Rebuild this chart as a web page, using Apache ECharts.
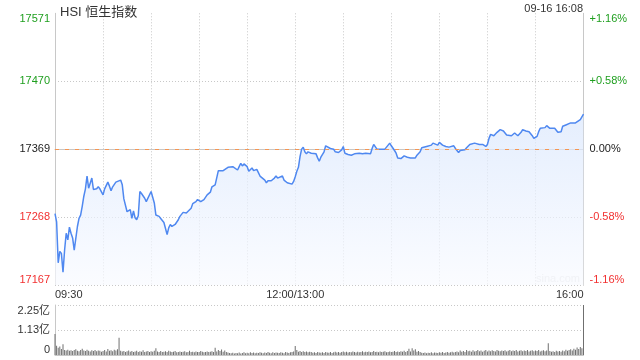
<!DOCTYPE html>
<html><head><meta charset="utf-8">
<script src="https://cdn.jsdelivr.net/npm/echarts@6/dist/echarts.min.js"></script>
<style>html,body{margin:0;padding:0;background:#fff}#c{width:640px;height:360px}</style>
</head><body><div id="c"></div>
<script>
const priceMinutes = [0,1,2,3,4,5,6,7,8,9,10,11,12,13,14,15,16,17,18,19,20,21,22,23,24,25,26,27,28,30,31,33,34,35,36,38,39,41,42,43,44,45,46,47,48,49,50,51,52,53,54,56,57,58,60,61,62,63,65,66,68,69,70,71,72,73,75,77,78,79,80,82,83,85,86,88,89,90,91,92,93,94,95,97,98,99,100,102,103,105,106,108,109,111,112,114,115,116,117,118,120,121,122,123,124,126,127,128,129,131,132,133,135,136,137,138,139,140,142,143,145,146,148,149,150,151,152,153,154,155,156,157,158,160,161,163,164,165,166,167,168,169,170,172,174,175,177,178,179,180,181,183,184,185,187,188,190,191,192,194,195,197,198,199,200,201,203,204,206,207,209,210,212,213,214,216,217,218,220,221,222,225,226,228,229,230,232,233,235,236,237,239,240,242,243,244,246,247,249,250,252,253,254,256,257,259,260,262,263,265,266,267,269,270,271,272,273,274,275,276,278,279,280,282,283,285,286,287,288,289,291,292,293,294,296,297,298,299,301,302,303,304,306,307,309,310,312,313,314,316,317,318,319,320,322,323,325,326,328,329,330];
const priceValues = [17273,17261,17200,17217,17214,17186,17219,17244,17234,17253,17244,17237,17219,17219,17254,17266,17271,17284,17299,17310,17329,17311,17311,17326,17309,17309,17310,17313,17310,17301,17310,17320,17314,17307,17313,17320,17318,17323,17316,17295,17294,17276,17275,17279,17266,17277,17267,17264,17270,17306,17303,17296,17291,17289,17306,17305,17289,17271,17269,17266,17260,17258,17242,17252,17257,17254,17257,17264,17269,17271,17275,17274,17274,17281,17288,17291,17294,17295,17291,17289,17294,17296,17301,17305,17313,17313,17316,17337,17339,17337,17337,17342,17344,17343,17341,17338,17343,17348,17344,17347,17343,17336,17338,17341,17337,17339,17334,17329,17327,17323,17319,17322,17322,17324,17326,17329,17326,17328,17329,17323,17319,17317,17317,17321,17328,17336,17342,17358,17369,17372,17365,17362,17365,17363,17362,17362,17356,17351,17357,17358,17365,17374,17372,17370,17369,17365,17364,17365,17368,17373,17363,17361,17362,17360,17362,17361,17363,17364,17362,17363,17362,17362,17370,17376,17374,17369,17369,17370,17369,17372,17378,17374,17367,17363,17356,17355,17356,17359,17357,17357,17356,17356,17360,17365,17371,17373,17373,17374,17375,17378,17376,17375,17379,17375,17373,17373,17372,17373,17374,17370,17364,17367,17368,17368,17371,17376,17378,17378,17376,17376,17375,17376,17373,17376,17385,17391,17390,17389,17391,17394,17398,17399,17396,17390,17389,17389,17389,17393,17391,17389,17394,17398,17399,17396,17395,17394,17389,17385,17388,17395,17400,17399,17401,17404,17400,17401,17400,17399,17394,17395,17403,17405,17405,17403,17408,17406,17408,17410,17413,17417,17421];
const volumes = [
0.95,0.42,0.33,0.38,0.27,0.48,0.22,0.20,0.24,0.19,
0.21,0.18,0.23,0.26,0.19,0.17,0.22,0.28,0.20,0.18,
0.24,0.19,0.16,0.21,0.18,0.23,0.17,0.20,0.19,0.15,
0.18,0.22,0.16,0.27,0.19,0.21,0.17,0.24,0.20,0.26,
0.78,0.19,0.16,0.18,0.14,0.17,0.20,0.15,0.18,0.13,
0.16,0.19,0.14,0.17,0.15,0.21,0.13,0.16,0.18,0.14,
0.17,0.15,0.19,0.30,0.16,0.14,0.18,0.13,0.15,0.17,
0.14,0.19,0.16,0.13,0.15,0.18,0.12,0.14,0.16,0.13,
0.15,0.17,0.12,0.14,0.19,0.13,0.15,0.12,0.16,0.14,
0.13,0.18,0.15,0.12,0.14,0.16,0.13,0.15,0.17,0.14,
0.33,0.16,0.22,0.18,0.25,0.15,0.20,0.13,0.11,0.09,
0.08,0.10,0.07,0.09,0.08,0.11,0.07,0.09,0.12,0.08,
0.10,0.08,0.12,0.09,0.11,0.08,0.10,0.09,0.12,0.10,
0.08,0.11,0.09,0.13,0.10,0.08,0.12,0.09,0.11,0.10,
0.09,0.12,0.10,0.08,0.13,0.11,0.09,0.12,0.14,0.16,
0.40,
0.22,0.15,0.18,0.14,0.17,0.13,0.16,0.12,0.15,0.13,
0.10,0.12,0.09,0.13,0.11,0.10,0.12,0.09,0.14,0.11,
0.10,0.13,0.09,0.12,0.15,0.11,0.13,0.10,0.14,0.16,
0.12,0.15,0.11,0.14,0.12,0.16,0.13,0.11,0.15,0.12,
0.14,0.17,0.12,0.15,0.13,0.16,0.12,0.14,0.18,0.13,
0.15,0.12,0.16,0.13,0.15,0.17,0.12,0.14,0.16,0.13,
0.15,0.18,0.14,0.16,0.13,0.17,0.15,0.19,0.14,0.18,
0.28,0.16,0.30,0.20,0.26,0.15,0.18,0.13,0.10,0.09,
0.11,0.08,0.10,0.09,0.12,0.08,0.11,0.10,0.09,0.12,
0.10,0.13,0.09,0.11,0.14,0.10,0.12,0.15,0.11,0.13,
0.16,0.12,0.20,0.15,0.18,0.14,0.22,0.17,0.19,0.15,
0.21,0.16,0.18,0.23,0.17,0.20,0.15,0.19,0.22,0.16,
0.20,0.17,0.21,0.18,0.16,0.22,0.19,0.17,0.20,0.18,
0.21,0.16,0.19,0.22,0.17,0.20,0.18,0.23,0.16,0.19,
0.21,0.17,0.20,0.18,0.22,0.16,0.19,0.21,0.17,0.20,
0.18,0.22,0.16,0.19,0.21,0.17,0.20,0.53,0.18,0.15,
0.17,0.14,0.19,0.16,0.18,0.15,0.20,0.17,0.24,0.19,
0.22,0.26,0.20,0.28,0.24,0.34,0.27,0.36,0.30,
2.25];
const leftTickLabels = ['17167','17268','17369','17470','17571'];
const rightTickLabels = ['-1.16%','-0.58%','0.00%','+0.58%','+1.16%'];
const tickColorKeys = ['dn','dn','eq','up','up'];
const volTickLabels = ['0','1.13亿','2.25亿'];
const xTickMinutes = [0,150,330];
const xTickLabels = ['09:30','12:00/13:00','16:00'];
const prevClose = 17369;
const titleText = 'HSI 恒生指数';
const timeText = '09-16 16:08';

const FONT = '"Liberation Sans", Arial, "Noto Sans CJK SC", sans-serif';
const rich = {
  up: {color:'#1f9f1f', fontSize:11, fontFamily:FONT},
  dn: {color:'#f23030', fontSize:11, fontFamily:FONT},
  eq: {color:'#222', fontSize:11, fontFamily:FONT}
};
const chart = echarts.init(document.getElementById('c'), null, {renderer:'canvas'});
const gridLeft = 55, gridRight = 56.5;
chart.setOption({
  animation:false,
  textStyle:{fontFamily:FONT},
  title:{text:titleText, left:55, top:1, textStyle:{fontSize:13, fontWeight:'normal', color:'#333', fontFamily:FONT}},
  graphic:[
    {type:'text', right:57, top:3, style:{text:timeText, fontSize:11, fill:'#333', fontFamily:FONT}},
    {type:'text', right:60, top:273, style:{text:'sina.com', fontSize:11, fill:'#e2e2e2', fontFamily:FONT}}
  ],
  grid:[
    {left:gridLeft, right:gridRight, top:13.3, height:271.7},
    {left:gridLeft, right:gridRight, top:305, height:50}
  ],
  xAxis:[
    {type:'value', gridIndex:0, min:0, max:330, interval:30,
     axisLine:{show:true, lineStyle:{color:'#c8c8c8'}}, axisTick:{show:false},
     splitLine:{show:true, lineStyle:{color:'#c8c8c8', type:[1,2]}},
     axisLabel:{show:true, margin:4, fontSize:11, color:'#333', fontFamily:FONT,
       showMinLabel:true, showMaxLabel:true, alignMinLabel:'left', alignMaxLabel:'right',
       formatter:(v)=>{const i = xTickMinutes.indexOf(Math.round(v)); return i>=0 ? xTickLabels[i] : '';}}},
    {type:'value', gridIndex:1, min:0, max:330, interval:30,
     axisLine:{show:true, lineStyle:{color:'#c8c8c8'}}, axisTick:{show:false},
     splitLine:{show:false}, axisLabel:{show:false}}
  ],
  yAxis:[
    {type:'value', gridIndex:0, min:17167, max:17571, interval:101, position:'left',
     axisLine:{show:true, lineStyle:{color:'#c8c8c8'}}, axisTick:{show:false},
     splitLine:{show:true, lineStyle:{color:['#c8c8c8','#c8c8c8','#c8c8c8','#c8c8c8','rgba(0,0,0,0)'], type:[1,2]}},
     axisLabel:{margin:5, rich, verticalAlignMinLabel:'bottom', verticalAlignMaxLabel:'top',
       formatter:(v,i)=>'{'+tickColorKeys[i]+'|'+leftTickLabels[i]+'}'}},
    {type:'value', gridIndex:0, min:-1.16, max:1.16, interval:0.58, position:'right',
     axisLine:{show:true, lineStyle:{color:'#c8c8c8'}}, axisTick:{show:false},
     splitLine:{show:false},
     axisLabel:{margin:6, rich, verticalAlignMinLabel:'bottom', verticalAlignMaxLabel:'top',
       formatter:(v,i)=>'{'+tickColorKeys[i]+'|'+rightTickLabels[i]+'}'}},
    {type:'value', gridIndex:1, min:0, max:2.25, interval:1.125, position:'left',
     axisLine:{show:true, lineStyle:{color:'#c8c8c8'}}, axisTick:{show:false},
     splitLine:{show:true, lineStyle:{color:['rgba(0,0,0,0)','#c8c8c8','#c8c8c8'], type:[1,2]}},
     axisLabel:{margin:5, fontSize:11, color:'#333', fontFamily:FONT,
       verticalAlignMinLabel:'bottom', verticalAlignMaxLabel:'top',
       formatter:(v,i)=>volTickLabels[i]}}
  ],
  series:[
    {type:'line', xAxisIndex:0, yAxisIndex:0,
     data: priceMinutes.map((m,i)=>[m, priceValues[i]]),
     showSymbol:false, symbol:'none',
     lineStyle:{color:'#4f88f0', width:1.5},
     areaStyle:{origin:'start', color:new echarts.graphic.LinearGradient(0,0,0,1,[
       {offset:0, color:'#d9e6fc'},{offset:1, color:'#f8faff'}])},
     markLine:{silent:true, symbol:'none', label:{show:false}, z:5,
       lineStyle:{color:'#f59552', type:[4,6], width:1.2, opacity:1},
       emphasis:{disabled:true},
       data:[{yAxis:prevClose}]}},
    {type:'bar', xAxisIndex:1, yAxisIndex:2,
     data: volumes.map((v,i)=>[i, v]),
     barWidth:1, itemStyle:{color:'#6f6f6f'}}
  ]
});
</script></body></html>
